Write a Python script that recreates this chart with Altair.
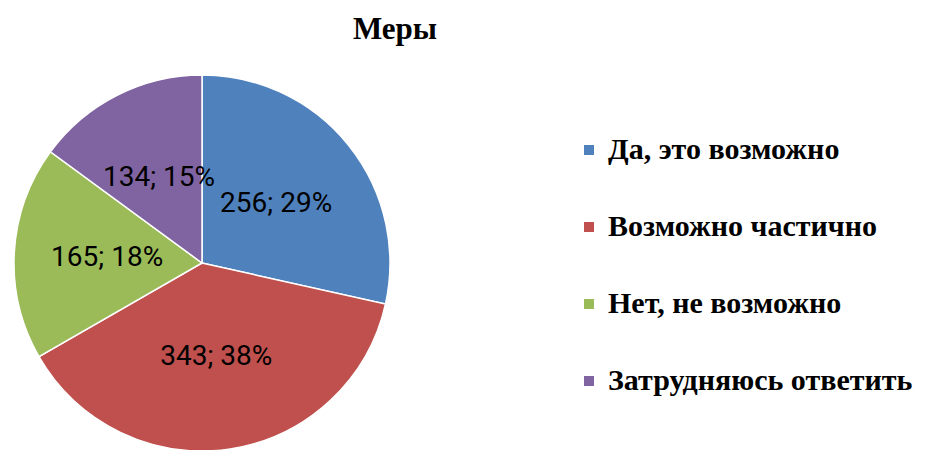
import altair as alt
import pandas as pd

categories = ["Да, это возможно", "Возможно частично", "Нет, не возможно", "Затрудняюсь ответить"]
values = [256, 343, 165, 134]
percents = [29, 38, 18, 15]
colors = ["#4F81BD", "#C0504D", "#9BBB59", "#8064A2"]

df = pd.DataFrame({
    "category": categories,
    "value": values,
    "order": list(range(len(categories))),
    "label": [f"{v}; {p}%" for v, p in zip(values, percents)],
})

TOP = 40
cx, cy, R = 194, 255 - TOP, 188

base = alt.Chart(df).encode(
    theta=alt.Theta("value:Q", stack=True),
    order=alt.Order("order:Q", sort="ascending"),
)

pie = base.mark_arc(outerRadius=R, stroke="white", strokeWidth=1.5).encode(
    x=alt.value(cx),
    y=alt.value(cy),
    color=alt.Color(
        "category:N",
        scale=alt.Scale(domain=categories, range=colors),
        sort=categories,
        legend=alt.Legend(
            title=None,
            orient="none",
            legendX=566,
            legendY=127 - TOP,
            symbolType="square",
            symbolSize=100,
            symbolStrokeWidth=0,
            labelFont="Liberation Serif",
            labelFontWeight="bold",
            labelFontSize=30,
            labelColor="black",
            labelLimit=400,
            labelOffset=4,
            rowPadding=47,
        ),
    ),
)

labels = base.mark_text(
    radius=95, font="Roboto", fontSize=28, color="black"
).encode(
    x=alt.value(cx),
    y=alt.value(cy),
    text="label:N",
)

chart = (
    (pie + labels)
    .properties(
        width=922,
        height=442 - TOP,
        autosize=alt.AutoSizeParams(type="none"),
        padding={"top": TOP, "left": 0, "right": 0, "bottom": 0},
        title=alt.TitleParams(
            "Меры",
            font="Liberation Serif",
            fontWeight="bold",
            fontSize=31,
            color="black",
            anchor="middle",
            dx=-74,
            offset=2,
        ),
    )
    .configure_view(stroke=None)
)

chart.save("out.html", embed_options={"renderer": "svg", "actions": False})
